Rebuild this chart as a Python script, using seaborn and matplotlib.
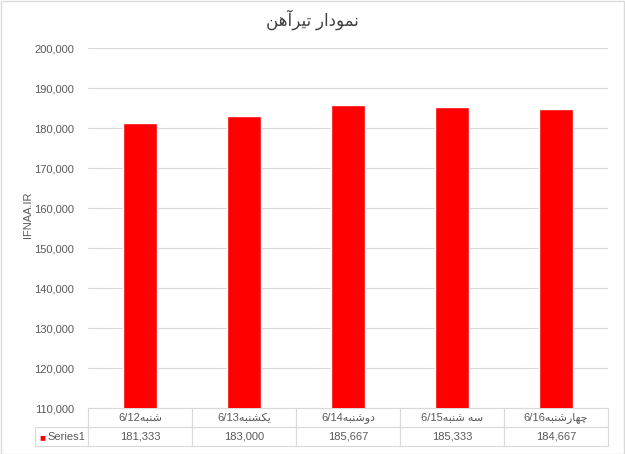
import matplotlib
matplotlib.use("Agg")
import matplotlib.pyplot as plt
import seaborn as sns
import pandas as pd
from matplotlib.patches import Rectangle

# data
days = ["شنبه", "یکشنبه", "دوشنبه", "سه شنبه", "چهارشنبه"]
dates = ["6/12", "6/13", "6/14", "6/15", "6/16"]
prices = [181333, 183000, 185667, 185333, 184667]
series_name = "Series1"
title = "نمودار تیرآهن"
y_label = "IFNAA.IR"
y_ticks = [110000, 120000, 130000, 140000, 150000, 160000, 170000, 180000, 190000, 200000]

# simple arabic/persian shaping (presentation forms), no external libs available
FORMS = {
    "ا": ("\uFE8D", "\uFE8E", None, None),
    "آ": ("\uFE81", "\uFE82", None, None),
    "د": ("\uFEA9", "\uFEAA", None, None),
    "ر": ("\uFEAD", "\uFEAE", None, None),
    "و": ("\uFEED", "\uFEEE", None, None),
    "ب": ("\uFE8F", "\uFE90", "\uFE91", "\uFE92"),
    "ت": ("\uFE95", "\uFE96", "\uFE97", "\uFE98"),
    "س": ("\uFEB1", "\uFEB2", "\uFEB3", "\uFEB4"),
    "ش": ("\uFEB5", "\uFEB6", "\uFEB7", "\uFEB8"),
    "م": ("\uFEE1", "\uFEE2", "\uFEE3", "\uFEE4"),
    "ن": ("\uFEE5", "\uFEE6", "\uFEE7", "\uFEE8"),
    "ه": ("\uFEE9", "\uFEEA", "\uFEEB", "\uFEEC"),
    "ی": ("\uFBFC", "\uFBFD", "\uFBFE", "\uFBFF"),
    "ک": ("\uFB8E", "\uFB8F", "\uFB90", "\uFB91"),
    "چ": ("\uFB7A", "\uFB7B", "\uFB7C", "\uFB7D"),
}


def shape(text):
    out = []
    for i, c in enumerate(text):
        if c not in FORMS:
            out.append(c)
            continue
        iso, fin, ini, med = FORMS[c]
        prev = text[i - 1] if i > 0 else None
        nxt = text[i + 1] if i + 1 < len(text) else None
        join_prev = prev in FORMS and FORMS[prev][2] is not None
        join_next = nxt in FORMS and ini is not None
        if join_prev and join_next:
            out.append(med)
        elif join_prev:
            out.append(fin)
        elif join_next:
            out.append(ini)
        else:
            out.append(iso)
    return "".join(reversed(out))


labels = [d + shape(day) for d, day in zip(dates, days)]
df = pd.DataFrame({"label": labels, "price": prices})

sns.set_style("white")
plt.rcParams["font.family"] = ["Liberation Sans", "DejaVu Sans"]
text_color = "#595959"
grid_color = "#d9d9d9"

fig = plt.figure(figsize=(6.25, 4.54), dpi=100)
ax = fig.add_axes([88 / 625, 1 - 408 / 454, 520 / 625, 360 / 454])

sns.barplot(data=df, x="label", y="price", color="#ff0000", saturation=1,
            width=0.32, ax=ax, zorder=3)

ax.set_ylim(110000, 200000)
ax.set_yticks(y_ticks)
ax.set_yticklabels([f"{v:,}" for v in y_ticks], color=text_color, fontsize=8)
ax.tick_params(axis="y", length=0, pad=10)
ax.yaxis.grid(True, color=grid_color, linewidth=0.8, zorder=0)
ax.set_xticks([])
ax.set_xlabel("")
ax.set_ylabel("")
for s in ax.spines.values():
    s.set_visible(False)

fig.text(28 / 625, 1 - 215 / 454, y_label, rotation=90, ha="center", va="center",
         color=text_color, fontsize=8)
fig.text(0.5, 1 - 20 / 454, shape(title), ha="center", va="center",
         color="#404040", fontsize=12)

# data table under the plot
cell_text = [[""] + [f"{v:,}" for v in prices]]
col_labels = [""] + labels
left = -(88 - 35) / 520
tbl = ax.table(cellText=cell_text, colLabels=col_labels, cellLoc="center",
               bbox=[left, -38 / 360, (608 - 35) / 520, 38 / 360])
tbl.auto_set_font_size(False)
tbl.set_fontsize(8)
w_first = 53 / 573
w_other = 104 / 573
for (r, c), cell in tbl.get_celld().items():
    cell.set_edgecolor(grid_color)
    cell.set_linewidth(0.8)
    cell.get_text().set_color(text_color)
    cell.set_width(w_first if c == 0 else w_other)
    if r == 0 and c == 0:
        cell.visible_edges = ""

# legend key + series name in the table's first cell
fig.text(42 / 625, 1 - 437 / 454, "■", color="#ff0000", ha="center", va="center",
         fontsize=7)
fig.text(47 / 625, 1 - 437 / 454, series_name, color=text_color, ha="left", va="center",
         fontsize=8)

fig.patches.append(Rectangle((0.001, 0.001), 0.997, 0.997, transform=fig.transFigure,
                             fill=False, edgecolor=grid_color, linewidth=1))

fig.savefig("out.png", dpi=100)
plt.close(fig)
